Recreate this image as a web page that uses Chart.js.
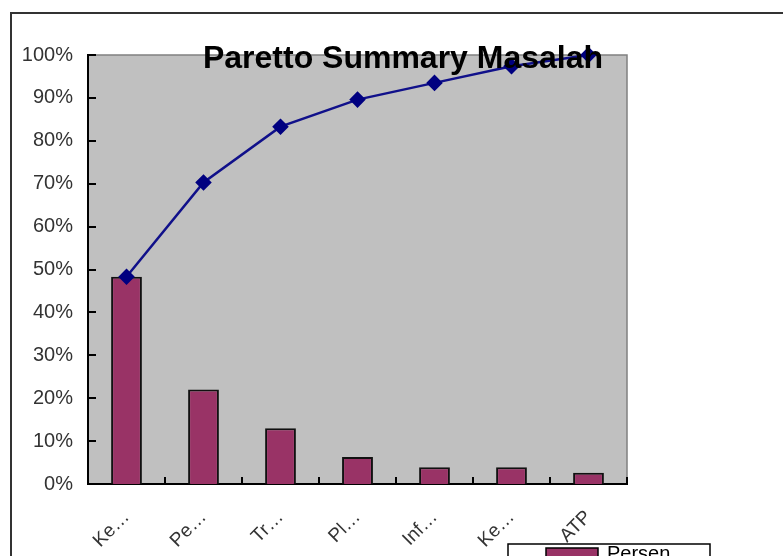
<!DOCTYPE html>
<html>
<head>
<meta charset="utf-8">
<script src="https://cdn.jsdelivr.net/npm/chart.js@4/dist/chart.umd.min.js"></script>
<style>
  html, body { margin: 0; padding: 0; background: #fff; overflow: hidden; }
  #chart { display: block; }
</style>
</head>
<body>
<canvas id="chart" width="783" height="556"></canvas>
<script>
  const categories = ['Ke…', 'Pe…', 'Tr…', 'Pl…', 'Inf…', 'Ke…', 'ATP'];
  const persen = [48.3, 22.0, 13.0, 6.3, 3.9, 3.9, 2.6];
  const kumulatif = [48.3, 70.3, 83.3, 89.6, 93.5, 97.4, 100];
  const yTicks = [0, 10, 20, 30, 40, 50, 60, 70, 80, 90, 100];

  const FONT = '"Liberation Sans", Arial, sans-serif';

  // plot background, inner tick marks, frame, title and legend
  const excelLook = {
    id: 'excelLook',
    beforeDraw(chart) {
      const { ctx, chartArea: a } = chart;
      ctx.save();
      ctx.fillStyle = '#c0c0c0';
      ctx.fillRect(a.left, a.top, a.right - a.left, a.bottom - a.top);
      ctx.strokeStyle = '#808080';
      ctx.lineWidth = 1.5;
      ctx.beginPath();
      ctx.moveTo(a.left, a.top);
      ctx.lineTo(a.right, a.top);
      ctx.lineTo(a.right, a.bottom);
      ctx.stroke();
      ctx.restore();
    },
    afterDatasetsDraw(chart) {
      const { ctx, chartArea: a, scales } = chart;
      ctx.save();
      ctx.strokeStyle = '#000';
      ctx.lineWidth = 2;
      ctx.beginPath();
      yTicks.forEach(v => {
        const y = Math.round(scales.y.getPixelForValue(v));
        ctx.moveTo(a.left, y);
        ctx.lineTo(a.left + 8, y);
      });
      for (let i = 0; i <= categories.length; i++) {
        let x;
        if (i === 0) x = a.left;
        else if (i === categories.length) x = a.right;
        else x = (scales.x.getPixelForValue(i - 1) + scales.x.getPixelForValue(i)) / 2;
        ctx.moveTo(x, a.bottom);
        ctx.lineTo(x, a.bottom - 7);
      }
      ctx.stroke();
      ctx.restore();
    },
    afterDraw(chart) {
      const { ctx } = chart;
      ctx.save();
      // outer chart frame
      ctx.strokeStyle = '#333';
      ctx.lineWidth = 2;
      ctx.beginPath();
      ctx.moveTo(11, 560);
      ctx.lineTo(11, 13);
      ctx.lineTo(790, 13);
      ctx.stroke();
      // title
      ctx.fillStyle = '#000';
      ctx.font = 'bold 32px ' + FONT;
      ctx.textAlign = 'center';
      ctx.textBaseline = 'alphabetic';
      ctx.fillText('Paretto Summary Masalah', 403, 68);
      // legend (cut off by bottom edge)
      ctx.fillStyle = '#fff';
      ctx.fillRect(508, 544, 202, 30);
      ctx.strokeStyle = '#000';
      ctx.lineWidth = 1.5;
      ctx.strokeRect(508, 544, 202, 30);
      ctx.fillStyle = '#993366';
      ctx.fillRect(546, 548, 52, 14);
      ctx.strokeRect(546, 548, 52, 14);
      ctx.fillStyle = '#000';
      ctx.font = '20px ' + FONT;
      ctx.textAlign = 'left';
      ctx.textBaseline = 'top';
      ctx.fillText('Persen', 607, 544);
      ctx.restore();
    }
  };

  new Chart(
    document.getElementById('chart'),
    {
      data: {
        labels: categories,
        datasets: [
          {
            type: 'line',
            label: 'Kumulatif',
            data: kumulatif,
            borderColor: '#10108a',
            borderWidth: 2.5,
            backgroundColor: '#000080',
            pointStyle: 'rectRot',
            pointRadius: 6.5,
            pointBackgroundColor: '#000080',
            pointBorderColor: '#000080',
            tension: 0,
            clip: false,
            order: 0
          },
          {
            type: 'bar',
            label: 'Persen',
            data: persen,
            backgroundColor: '#993366',
            borderColor: '#111',
            borderWidth: 2,
            categoryPercentage: 1,
            barPercentage: 0.4,
            order: 1
          }
        ]
      },
      options: {
        responsive: false,
        animation: false,
        maintainAspectRatio: false,
        layout: {
          padding: { top: 55, right: 156, left: 0, bottom: 0 }
        },
        plugins: {
          legend: { display: false },
          title: { display: false },
          tooltip: { enabled: false }
        },
        scales: {
          y: {
            min: 0,
            max: 100,
            afterFit: s => { s.width = 88; },
            grid: { display: false, drawTicks: false },
            border: { color: '#000', width: 2 },
            ticks: {
              stepSize: 10,
              padding: 15,
              color: '#333',
              font: { family: FONT, size: 20 },
              callback: v => v + '%'
            }
          },
          x: {
            afterFit: s => { s.height = 72; },
            grid: { display: false, drawTicks: false },
            border: { color: '#000', width: 2 },
            ticks: {
              minRotation: 45,
              maxRotation: 45,
              padding: 22,
              color: '#333',
              font: { family: FONT, size: 19 }
            }
          }
        }
      },
      plugins: [excelLook]
    }
  );
</script>
</body>
</html>
